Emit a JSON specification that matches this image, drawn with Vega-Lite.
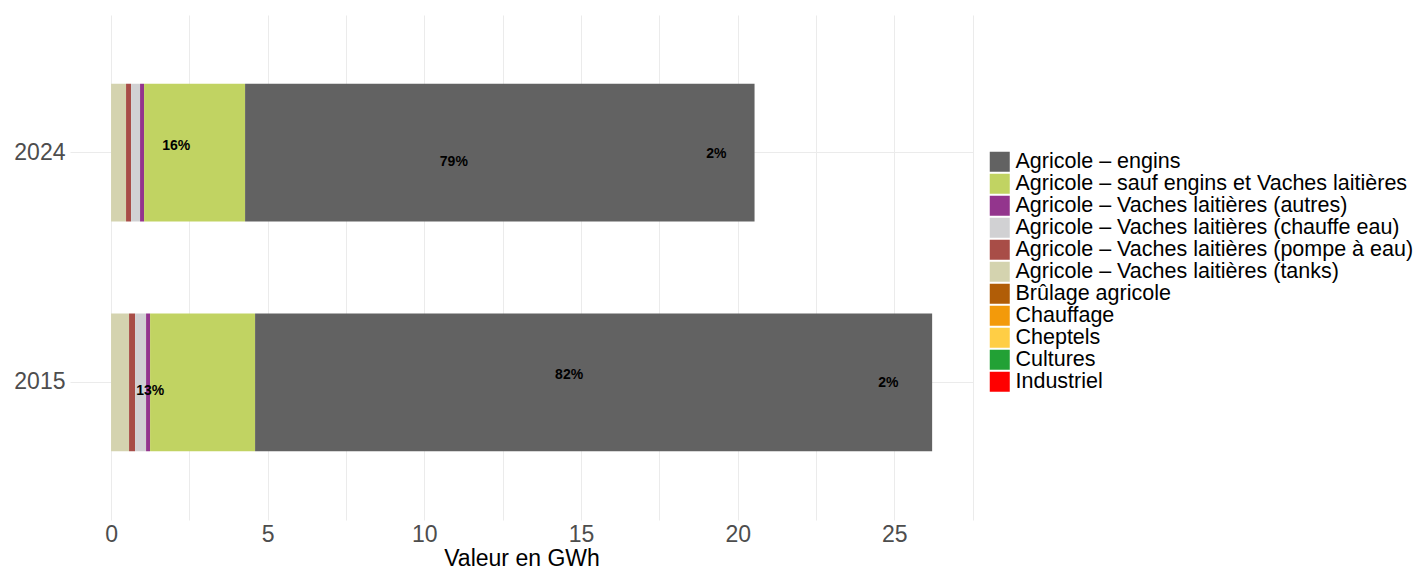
{
  "$schema": "https://vega.github.io/schema/vega-lite/v6.json",
  "width": 903,
  "height": 505,
  "autosize": {"type": "none"},
  "padding": {"left": 70, "top": 15, "right": 448, "bottom": 48},
  "background": "white",
  "config": {"font": "Liberation Sans", "view": {"stroke": null}},
  "datasets": {
    "energie": [
      {"annee": "2015", "categorie": "Agricole – Vaches laitières (tanks)", "rang": 1, "valeur": 0.575},
      {"annee": "2015", "categorie": "Agricole – Vaches laitières (pompe à eau)", "rang": 2, "valeur": 0.192},
      {"annee": "2015", "categorie": "Agricole – Vaches laitières (chauffe eau)", "rang": 3, "valeur": 0.351},
      {"annee": "2015", "categorie": "Agricole – Vaches laitières (autres)", "rang": 4, "valeur": 0.128},
      {"annee": "2015", "categorie": "Agricole – sauf engins et Vaches laitières", "rang": 5, "valeur": 3.351},
      {"annee": "2015", "categorie": "Agricole – engins", "rang": 6, "valeur": 21.609},
      {"annee": "2024", "categorie": "Agricole – Vaches laitières (tanks)", "rang": 1, "valeur": 0.479},
      {"annee": "2024", "categorie": "Agricole – Vaches laitières (pompe à eau)", "rang": 2, "valeur": 0.16},
      {"annee": "2024", "categorie": "Agricole – Vaches laitières (chauffe eau)", "rang": 3, "valeur": 0.287},
      {"annee": "2024", "categorie": "Agricole – Vaches laitières (autres)", "rang": 4, "valeur": 0.128},
      {"annee": "2024", "categorie": "Agricole – sauf engins et Vaches laitières", "rang": 5, "valeur": 3.224},
      {"annee": "2024", "categorie": "Agricole – engins", "rang": 6, "valeur": 16.26}
    ],
    "etiquettes": [
      {"annee": "2024", "texte": "16%", "position": 2.08, "ligne": "haut"},
      {"annee": "2024", "texte": "79%", "position": 10.94, "ligne": "bas"},
      {"annee": "2024", "texte": "2%", "position": 19.32, "ligne": "centre"},
      {"annee": "2015", "texte": "13%", "position": 1.25, "ligne": "bas"},
      {"annee": "2015", "texte": "82%", "position": 14.62, "ligne": "haut"},
      {"annee": "2015", "texte": "2%", "position": 24.81, "ligne": "centre"}
    ]
  },
  "layer": [
    {
      "data": {"name": "energie"},
      "mark": {"type": "bar"},
      "encoding": {
        "y": {
          "field": "annee",
          "type": "nominal",
          "sort": "descending",
          "scale": {"paddingInner": 0.4, "paddingOuter": 0.3},
          "axis": {
            "title": null,
            "bandPosition": 0.5,
            "grid": true,
            "gridColor": "#EBEBEB",
            "gridWidth": 1,
            "domain": false,
            "ticks": false,
            "labelFontSize": 23,
            "labelColor": "#4D4D4D",
            "labelPadding": 5
          }
        },
        "x": {
          "field": "valeur",
          "type": "quantitative",
          "stack": "zero",
          "scale": {"domain": [-1.31, 27.51], "nice": false, "zero": false},
          "axis": {
            "title": "Valeur en GWh",
            "values": [0, 2.5, 5, 7.5, 10, 12.5, 15, 17.5, 20, 22.5, 25, 27.5],
            "labelExpr": "datum.value % 5 === 0 ? format(datum.value, 'd') : ''",
            "grid": true,
            "gridColor": "#EBEBEB",
            "gridWidth": 1,
            "domain": false,
            "ticks": false,
            "labelFontSize": 23,
            "labelColor": "#4D4D4D",
            "labelPadding": 3,
            "titleFontSize": 23,
            "titleFontWeight": "normal",
            "titleColor": "black",
            "titleY": 45,
            "titleBaseline": "alphabetic"
          }
        },
        "color": {
          "field": "categorie",
          "type": "nominal",
          "scale": {
            "domain": [
              "Agricole – engins",
              "Agricole – sauf engins et Vaches laitières",
              "Agricole – Vaches laitières (autres)",
              "Agricole – Vaches laitières (chauffe eau)",
              "Agricole – Vaches laitières (pompe à eau)",
              "Agricole – Vaches laitières (tanks)",
              "Brûlage agricole",
              "Chauffage",
              "Cheptels",
              "Cultures",
              "Industriel"
            ],
            "range": ["#626262", "#C1D362", "#93358D", "#D1D1D3", "#A84D47", "#D4D3AF", "#B15D07", "#F39A0A", "#FFCE45", "#22A135", "#FF0000"]
          },
          "legend": {
            "title": null,
            "orient": "none",
            "legendX": 919,
            "legendY": 136,
            "padding": 0,
            "symbolType": "square",
            "symbolSize": 400,
            "symbolStrokeWidth": 0,
            "symbolOpacity": 1,
            "labelFontSize": 21.5,
            "labelColor": "black",
            "labelOffset": 5,
            "labelLimit": 600,
            "rowPadding": -2.2
          }
        },
        "order": {"field": "rang", "type": "quantitative"}
      }
    },
    {
      "data": {"name": "etiquettes"},
      "transform": [{"filter": "datum.ligne === 'haut'"}],
      "mark": {"type": "text", "fontWeight": "bold", "fontSize": 14, "color": "black", "dy": -7},
      "encoding": {
        "y": {"field": "annee", "type": "nominal", "sort": "descending"},
        "x": {"field": "position", "type": "quantitative"},
        "text": {"field": "texte"}
      }
    },
    {
      "data": {"name": "etiquettes"},
      "transform": [{"filter": "datum.ligne === 'centre'"}],
      "mark": {"type": "text", "fontWeight": "bold", "fontSize": 14, "color": "black", "dy": 1},
      "encoding": {
        "y": {"field": "annee", "type": "nominal", "sort": "descending"},
        "x": {"field": "position", "type": "quantitative"},
        "text": {"field": "texte"}
      }
    },
    {
      "data": {"name": "etiquettes"},
      "transform": [{"filter": "datum.ligne === 'bas'"}],
      "mark": {"type": "text", "fontWeight": "bold", "fontSize": 14, "color": "black", "dy": 9},
      "encoding": {
        "y": {"field": "annee", "type": "nominal", "sort": "descending"},
        "x": {"field": "position", "type": "quantitative"},
        "text": {"field": "texte"}
      }
    }
  ]
}
